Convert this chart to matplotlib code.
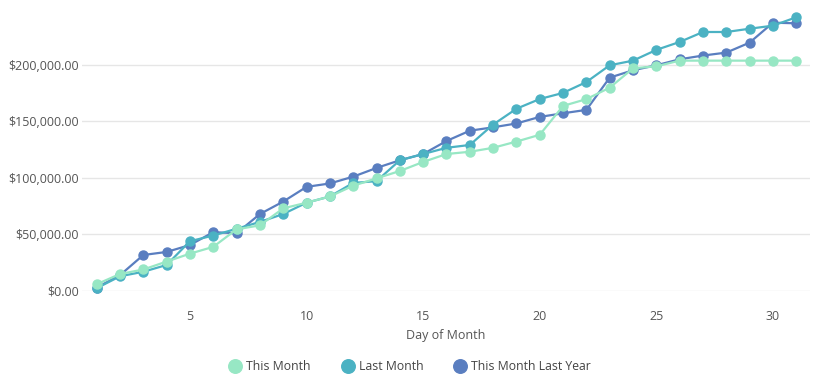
import numpy as np
import matplotlib.pyplot as plt
from matplotlib.ticker import FuncFormatter

plt.rcParams['font.family'] = ['Open Sans', 'DejaVu Sans']

days = list(range(1, 32))

this_month = [6000, 15000, 19000, 26000, 33000, 39000, 54500, 58000, 73000, 78000,
              83500, 93000, 99500, 106000, 114000, 121000, 123000, 126500, 132000, 138000,
              163500, 169500, 179600, 196700, 198500, 203500, 203500, 203500, 203500, 203500,
              203500]
last_month = [2500, 13000, 17000, 23000, 44000, 49000, 55000, 61000, 68000, 78000,
              83500, 95500, 97000, 115500, 121000, 126500, 129000, 147000, 161000, 169600,
              175000, 184600, 199400, 203500, 213000, 220000, 228800, 228800, 231700, 234400,
              241800]
last_year = [3000, 14000, 31800, 34500, 40600, 52000, 51000, 68000, 79000, 92000,
             95000, 101000, 108700, 115500, 121000, 132500, 141600, 144600, 148000, 153800,
             157000, 160000, 188500, 195000, 199400, 204700, 208000, 210600, 219400, 237000,
             236500]

series = [("This Month", this_month, "#97e7c4"),
          ("Last Month", last_month, "#4bb2c3"),
          ("This Month Last Year", last_year, "#5a7ec0")]

fig = plt.figure(figsize=(8.21, 3.84), dpi=100)
ax = fig.add_axes([82 / 821, 1 - 291 / 384, (810 - 82) / 821, (291 - 8) / 384])

for i, (name, vals, col) in enumerate(series):
    ax.plot(days, vals, color=col, lw=1.6, marker='o', markersize=6.5,
            label=name, zorder=5 - i, clip_on=False)

ax.set_xlim(0.37, 31.59)
ax.set_ylim(0, 250000)
ax.set_xticks([5, 10, 15, 20, 25, 30])
ax.set_yticks([0, 50000, 100000, 150000, 200000])
ax.yaxis.set_major_formatter(FuncFormatter(lambda v, p: "${:,.2f}".format(v)))
ax.grid(axis='y', color='#e6e6e6', lw=1)
ax.set_axisbelow(True)
for s in ax.spines.values():
    s.set_visible(False)
ax.tick_params(length=0, labelsize=9, colors='#555555')
ax.tick_params(axis='y', pad=2)
ax.tick_params(axis='x', pad=14)
ax.set_xlabel("Day of Month", fontsize=9, color='#555555', labelpad=4)

leg = fig.legend(loc='center', bbox_to_anchor=(0.5, 1 - 367 / 384), ncol=3, frameon=False,
                 fontsize=8.8, handlelength=0.8, handletextpad=0.5, columnspacing=2.6,
                 markerscale=1.5)
for h in leg.legend_handles:
    h.set_linestyle('none')
for t in leg.get_texts():
    t.set_color('#444444')

fig.savefig("out.png", dpi=100)
